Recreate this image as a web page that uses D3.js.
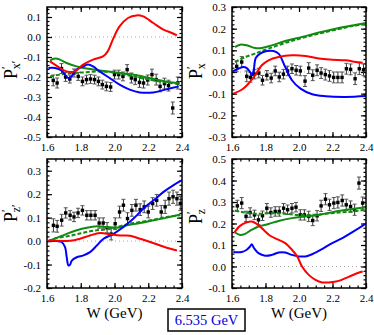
<!DOCTYPE html>
<html>
<head>
<meta charset="utf-8">
<script src="https://cdn.jsdelivr.net/npm/d3@7"></script>
<style>
  body { margin: 0; background: #fff; }
  svg { display: block; font-family: "Liberation Serif", "DejaVu Serif", serif; }
</style>
</head>
<body>
<div id="chart"></div>
<script>
// x axis (W in GeV), shared by all four panels
const xDomain = [1.6, 2.4];
const xTicks = [1.6, 1.8, 2.0, 2.2, 2.4];

// y ranges and tick labels per panel
const p1YDomain = [-0.5, 0.15], p1YTicks = [-0.5, -0.4, -0.3, -0.2, -0.1, 0.0, 0.1];
const p2YDomain = [-0.3, 0.3],  p2YTicks = [-0.3, -0.2, -0.1, 0.0, 0.1, 0.2, 0.3];
const p3YDomain = [-0.2, 0.35], p3YTicks = [-0.2, -0.1, 0.0, 0.1, 0.2, 0.3];
const p4YDomain = [-0.1, 0.5],  p4YTicks = [-0.1, 0.0, 0.1, 0.2, 0.3, 0.4, 0.5];

// model curves [W, value]
const p1Red = [[1.618,-0.122],[1.677,-0.155],[1.716,-0.172],[1.765,-0.172],[1.814,-0.138],[1.873,-0.113],[1.932,-0.097],[1.96,-0.072],[1.99,-0.013],[2.03,0.053],[2.08,0.095],[2.13,0.108],[2.17,0.103],[2.23,0.07],[2.29,0.037],[2.34,0.02],[2.37,0.008]];
const p1Blue = [[1.608,-0.155],[1.647,-0.155],[1.686,-0.167],[1.706,-0.188],[1.726,-0.205],[1.745,-0.197],[1.775,-0.163],[1.814,-0.147],[1.844,-0.138],[1.873,-0.147],[1.912,-0.172],[1.971,-0.205],[2.03,-0.238],[2.09,-0.263],[2.15,-0.277],[2.23,-0.277],[2.30,-0.263],[2.38,-0.247]];
const p1Green = [[1.618,-0.117],[1.647,-0.108],[1.677,-0.113],[1.716,-0.13],[1.775,-0.147],[1.834,-0.158],[1.912,-0.167],[2.01,-0.177],[2.108,-0.188],[2.206,-0.205],[2.30,-0.222],[2.38,-0.23]];
const p1GreenDash = [[1.618,-0.197],[1.716,-0.183],[1.814,-0.177],[1.912,-0.172],[2.01,-0.18],[2.108,-0.197],[2.206,-0.213],[2.30,-0.227],[2.38,-0.235]];

const p2Red = [[1.608,-0.1],[1.658,-0.082],[1.698,-0.054],[1.738,-0.015],[1.778,0.031],[1.818,0.054],[1.878,0.069],[1.958,0.077],[2.039,0.074],[2.119,0.062],[2.199,0.057],[2.279,0.054],[2.339,0.046],[2.38,0.043]];
const p2Blue = [[1.604,0.003],[1.638,0.015],[1.668,0.023],[1.69,0.017],[1.708,0.0],[1.72,-0.015],[1.73,0.01],[1.742,0.065],[1.768,0.085],[1.808,0.097],[1.848,0.097],[1.878,0.085],[1.918,0.023],[1.958,-0.038],[2.009,-0.077],[2.079,-0.103],[2.159,-0.112],[2.279,-0.115],[2.40,-0.111]];
const p2Green = [[1.618,0.115],[1.648,0.126],[1.688,0.123],[1.738,0.111],[1.778,0.111],[1.838,0.123],[1.918,0.143],[2.019,0.162],[2.119,0.182],[2.219,0.2],[2.319,0.215],[2.40,0.226]];
const p2GreenDash = [[1.618,0.046],[1.678,0.069],[1.738,0.085],[1.818,0.108],[1.918,0.134],[2.019,0.157],[2.119,0.177],[2.219,0.195],[2.319,0.212],[2.40,0.22]];

const p3Red = [[1.608,0.002],[1.737,0.001],[1.796,0.01],[1.855,0.024],[1.915,0.034],[1.974,0.029],[2.034,0.024],[2.093,0.023],[2.152,0.01],[2.212,-0.004],[2.271,-0.019],[2.331,-0.033],[2.37,-0.04]];
const p3Blue = [[1.608,0],[1.657,0],[1.687,-0.004],[1.707,-0.026],[1.717,-0.069],[1.727,-0.104],[1.737,-0.1],[1.747,-0.083],[1.776,-0.069],[1.816,-0.061],[1.855,-0.047],[1.895,-0.019],[1.935,0.01],[1.994,0.031],[2.053,0.06],[2.113,0.096],[2.172,0.139],[2.232,0.174],[2.291,0.21],[2.35,0.239],[2.40,0.26]];
const p3Green = [[1.608,0],[1.657,0.014],[1.717,0.031],[1.776,0.046],[1.836,0.057],[1.895,0.063],[1.954,0.06],[2.014,0.057],[2.073,0.067],[2.152,0.077],[2.232,0.089],[2.311,0.1],[2.39,0.113]];
const p3GreenDash = [[1.608,0],[1.657,0.013],[1.717,0.02],[1.776,0.029],[1.836,0.039],[1.895,0.046],[1.954,0.05],[2.014,0.06],[2.073,0.071],[2.152,0.081],[2.232,0.091],[2.311,0.103],[2.39,0.11]];

const p4Red = [[1.614,0.158],[1.648,0.189],[1.688,0.205],[1.718,0.209],[1.748,0.198],[1.788,0.171],[1.828,0.143],[1.879,0.124],[1.918,0.109],[1.958,0.078],[1.989,0.047],[2.018,0],[2.058,-0.039],[2.098,-0.062],[2.138,-0.074],[2.178,-0.074],[2.238,-0.067],[2.299,-0.047],[2.359,-0.028],[2.38,-0.023]];
const p4Blue = [[1.608,0.067],[1.658,0.067],[1.688,0.078],[1.708,0.093],[1.718,0.104],[1.732,0.085],[1.758,0.062],[1.798,0.05],[1.838,0.054],[1.878,0.065],[1.918,0.065],[1.958,0.054],[1.998,0.047],[2.038,0.047],[2.078,0.057],[2.138,0.081],[2.198,0.109],[2.259,0.132],[2.319,0.16],[2.40,0.2]];
const p4Green = [[1.618,0.158],[1.648,0.147],[1.678,0.152],[1.718,0.171],[1.758,0.186],[1.818,0.198],[1.878,0.212],[1.958,0.225],[2.038,0.233],[2.119,0.24],[2.219,0.256],[2.319,0.267],[2.40,0.276]];
const p4GreenDash = [[1.618,0.26],[1.678,0.251],[1.758,0.245],[1.838,0.248],[1.918,0.245],[1.998,0.24],[2.078,0.24],[2.158,0.245],[2.238,0.251],[2.319,0.256],[2.40,0.264]];

// measured points [W, value, error]
const p1Points = [[1.637,-0.217,0.027],[1.66,-0.23,0.025],[1.686,-0.158,0.025],[1.71,-0.2,0.022],[1.735,-0.21,0.02],[1.76,-0.18,0.02],[1.785,-0.197,0.02],[1.81,-0.222,0.022],[1.834,-0.213,0.022],[1.858,-0.21,0.022],[1.882,-0.213,0.022],[1.905,-0.222,0.022],[1.928,-0.238,0.022],[1.952,-0.247,0.022],[1.977,-0.25,0.022],[2.0,-0.188,0.022],[2.025,-0.188,0.022],[2.05,-0.197,0.022],[2.075,-0.163,0.025],[2.1,-0.205,0.025],[2.123,-0.213,0.025],[2.148,-0.227,0.025],[2.172,-0.23,0.025],[2.197,-0.215,0.025],[2.222,-0.188,0.027],[2.247,-0.213,0.027],[2.27,-0.247,0.027],[2.296,-0.233,0.027],[2.32,-0.243,0.027],[2.345,-0.355,0.03],[2.375,-0.23,0.03]];
const p2Points = [[1.628,0.026,0.025],[1.658,0.046,0.025],[1.688,-0.02,0.025],[1.71,-0.025,0.022],[1.735,-0.01,0.022],[1.76,-0.005,0.022],[1.782,-0.038,0.022],[1.808,-0.015,0.022],[1.834,-0.028,0.022],[1.858,0.005,0.022],[1.882,-0.023,0.022],[1.907,-0.01,0.022],[1.932,0.005,0.022],[1.958,0.015,0.022],[1.983,0.008,0.022],[2.008,0.005,0.022],[2.036,-0.042,0.025],[2.058,0.018,0.025],[2.082,-0.015,0.025],[2.108,0.008,0.025],[2.132,-0.005,0.025],[2.157,-0.012,0.025],[2.182,-0.018,0.025],[2.207,-0.025,0.025],[2.232,-0.025,0.025],[2.257,-0.025,0.025],[2.283,0.015,0.025],[2.308,0.012,0.025],[2.335,-0.031,0.027],[2.36,0.015,0.027],[2.385,0.01,0.027]];
const p3Points = [[1.638,0.067,0.028],[1.66,0.063,0.025],[1.687,0.089,0.025],[1.711,0.12,0.022],[1.737,0.11,0.02],[1.76,0.103,0.02],[1.784,0.12,0.02],[1.81,0.131,0.02],[1.836,0.11,0.02],[1.86,0.11,0.02],[1.885,0.11,0.02],[1.909,0.077,0.022],[1.933,0.077,0.022],[1.956,0.057,0.022],[1.98,0.03,0.025],[2.004,0.074,0.025],[2.03,0.124,0.025],[2.053,0.153,0.025],[2.077,0.096,0.025],[2.103,0.131,0.025],[2.127,0.153,0.025],[2.152,0.134,0.025],[2.176,0.146,0.025],[2.2,0.124,0.025],[2.226,0.16,0.025],[2.25,0.174,0.025],[2.277,0.124,0.028],[2.3,0.146,0.028],[2.323,0.181,0.028],[2.347,0.189,0.028],[2.37,0.181,0.028],[2.39,0.16,0.03]];
const p4Points = [[1.632,0.282,0.026],[1.658,0.295,0.026],[1.684,0.233,0.024],[1.708,0.251,0.022],[1.734,0.24,0.022],[1.758,0.217,0.022],[1.782,0.236,0.022],[1.808,0.271,0.022],[1.832,0.251,0.022],[1.858,0.256,0.022],[1.882,0.256,0.022],[1.908,0.271,0.022],[1.932,0.264,0.022],[1.958,0.271,0.022],[1.982,0.276,0.022],[2.008,0.24,0.024],[2.032,0.24,0.024],[2.058,0.233,0.024],[2.082,0.214,0.024],[2.108,0.236,0.024],[2.132,0.282,0.026],[2.158,0.313,0.026],[2.182,0.287,0.026],[2.208,0.295,0.026],[2.232,0.298,0.026],[2.258,0.307,0.026],[2.282,0.287,0.026],[2.308,0.279,0.026],[2.332,0.264,0.026],[2.358,0.388,0.028],[2.38,0.295,0.028]];

const panels = [
  {x0: 47,  y0: 7,   w: 135, h: 130, yDomain: p1YDomain, yTicks: p1YTicks, red: p1Red, blue: p1Blue, green: p1Green, greenDash: p1GreenDash, points: p1Points, label: ["x", "′"], lx: 17,  ly: 79,  xTitle: false},
  {x0: 232, y0: 7,   w: 134, h: 130, yDomain: p2YDomain, yTicks: p2YTicks, red: p2Red, blue: p2Blue, green: p2Green, greenDash: p2GreenDash, points: p2Points, label: ["x", ""],  lx: 202, ly: 79,  xTitle: false},
  {x0: 47,  y0: 159, w: 135, h: 129, yDomain: p3YDomain, yTicks: p3YTicks, red: p3Red, blue: p3Blue, green: p3Green, greenDash: p3GreenDash, points: p3Points, label: ["z", "′"], lx: 17,  ly: 222, xTitle: true},
  {x0: 232, y0: 159, w: 134, h: 129, yDomain: p4YDomain, yTicks: p4YTicks, red: p4Red, blue: p4Blue, green: p4Green, greenDash: p4GreenDash, points: p4Points, label: ["z", ""],  lx: 202, ly: 224, xTitle: true}
];

const svg = d3.select("#chart").append("svg")
    .attr("width", 374)
    .attr("height", 335);

const fmt = d => d.toFixed(1).replace("−", "-");

panels.forEach((p, i) => {
  const x = d3.scaleLinear().domain(xDomain).range([0, p.w]);
  const y = d3.scaleLinear().domain(p.yDomain).range([p.h, 0]);

  const g = svg.append("g").attr("transform", `translate(${p.x0},${p.y0})`);

  g.append("clipPath").attr("id", "clip" + i)
    .append("rect").attr("width", p.w).attr("height", p.h);

  // zero reference line
  g.append("line")
    .attr("x1", 0).attr("x2", p.w)
    .attr("y1", y(0)).attr("y2", y(0))
    .attr("stroke", "#aaa").attr("stroke-width", 1)
    .attr("stroke-dasharray", "1,3");

  // inward ticks on all four sides
  const xMinor = d3.range(1.6, 2.4001, 0.05);
  const yMinor = d3.range(Math.ceil(p.yDomain[0] / 0.02) * 0.02, p.yDomain[1] + 1e-6, 0.02);
  const tickSets = [
    [d3.axisBottom(x), `translate(0,${p.h})`, xMinor, xTicks],
    [d3.axisTop(x), null, xMinor, xTicks],
    [d3.axisLeft(y), null, yMinor, p.yTicks],
    [d3.axisRight(y), `translate(${p.w},0)`, yMinor, p.yTicks]
  ];
  tickSets.forEach(([ax, tr, minor, major]) => {
    const a1 = g.append("g").call(ax.tickValues(minor).tickSize(-2.5).tickFormat(""));
    const a2 = g.append("g").call(ax.tickValues(major).tickSize(-5).tickFormat(""));
    [a1, a2].forEach(a => {
      if (tr) a.attr("transform", tr);
      a.select(".domain").remove();
      a.selectAll("line").attr("stroke", "#000").attr("stroke-width", 1.2);
    });
  });

  // tick labels
  const xl = g.append("g").attr("transform", `translate(0,${p.h})`)
    .call(d3.axisBottom(x).tickValues(xTicks).tickSize(0).tickPadding(6).tickFormat(fmt));
  const yl = g.append("g")
    .call(d3.axisLeft(y).tickValues(p.yTicks).tickSize(0).tickPadding(6).tickFormat(fmt));
  [xl, yl].forEach(a => {
    a.select(".domain").remove();
    a.selectAll("text").attr("font-size", 11).attr("font-family", "Liberation Serif").attr("fill", "#000");
  });

  const plot = g.append("g").attr("clip-path", `url(#clip${i})`);
  const line = d3.line()
    .x(d => x(d[0])).y(d => y(d[1]))
    .curve(d3.curveCatmullRom.alpha(0.5));

  // measured points with error bars
  const pts = plot.append("g");
  pts.selectAll("line.bar").data(p.points).join("line")
    .attr("x1", d => x(d[0])).attr("x2", d => x(d[0]))
    .attr("y1", d => y(d[1] - d[2])).attr("y2", d => y(d[1] + d[2]))
    .attr("stroke", "#333").attr("stroke-width", 1);
  [-1, 1].forEach(s => {
    pts.append("g").selectAll("line").data(p.points).join("line")
      .attr("x1", d => x(d[0]) - 2).attr("x2", d => x(d[0]) + 2)
      .attr("y1", d => y(d[1] + s * d[2])).attr("y2", d => y(d[1] + s * d[2]))
      .attr("stroke", "#555").attr("stroke-width", 1);
  });
  pts.selectAll("rect").data(p.points).join("rect")
    .attr("x", d => x(d[0]) - 1.7).attr("y", d => y(d[1]) - 1.7)
    .attr("width", 3.4).attr("height", 3.4)
    .attr("fill", "#000");

  // model curves
  const curves = [
    [p.greenDash, "#108a10", "4,2"],
    [p.green, "#108a10", null],
    [p.blue, "#0000ff", null],
    [p.red, "#ff0000", null]
  ];
  curves.forEach(([data, color, dash]) => {
    plot.append("path").datum(data)
      .attr("d", line)
      .attr("fill", "none")
      .attr("stroke", color)
      .attr("stroke-width", 2)
      .attr("stroke-dasharray", dash);
  });

  // frame
  g.append("rect")
    .attr("width", p.w).attr("height", p.h)
    .attr("fill", "none").attr("stroke", "#000").attr("stroke-width", 1.5);

  // y axis title P'
  const t = svg.append("text")
    .attr("transform", `translate(${p.lx},${p.ly}) rotate(-90)`)
    .attr("text-anchor", "start")
    .attr("font-size", 18)
    .attr("fill", "#000");
  t.append("tspan").text("P");
  t.append("tspan").attr("font-size", 12).attr("dy", -7).text("′");
  t.append("tspan").attr("font-size", 12).attr("dx", -3).attr("dy", 10).text(p.label[0] + p.label[1]);

  if (p.xTitle) {
    svg.append("text")
      .attr("x", p.x0 + p.w / 2).attr("y", 318)
      .attr("text-anchor", "middle")
      .attr("font-size", 15)
      .attr("fill", "#000")
      .text("W (GeV)");
  }
});

// energy box
svg.append("rect")
  .attr("x", 168).attr("y", 309).attr("width", 77).attr("height", 22)
  .attr("fill", "#fff").attr("stroke", "#000").attr("stroke-width", 1.5);
svg.append("text")
  .attr("x", 206.5).attr("y", 325)
  .attr("text-anchor", "middle")
  .attr("font-size", 14.5)
  .attr("fill", "#0000dd")
  .text("6.535 GeV");
</script>
</body>
</html>
